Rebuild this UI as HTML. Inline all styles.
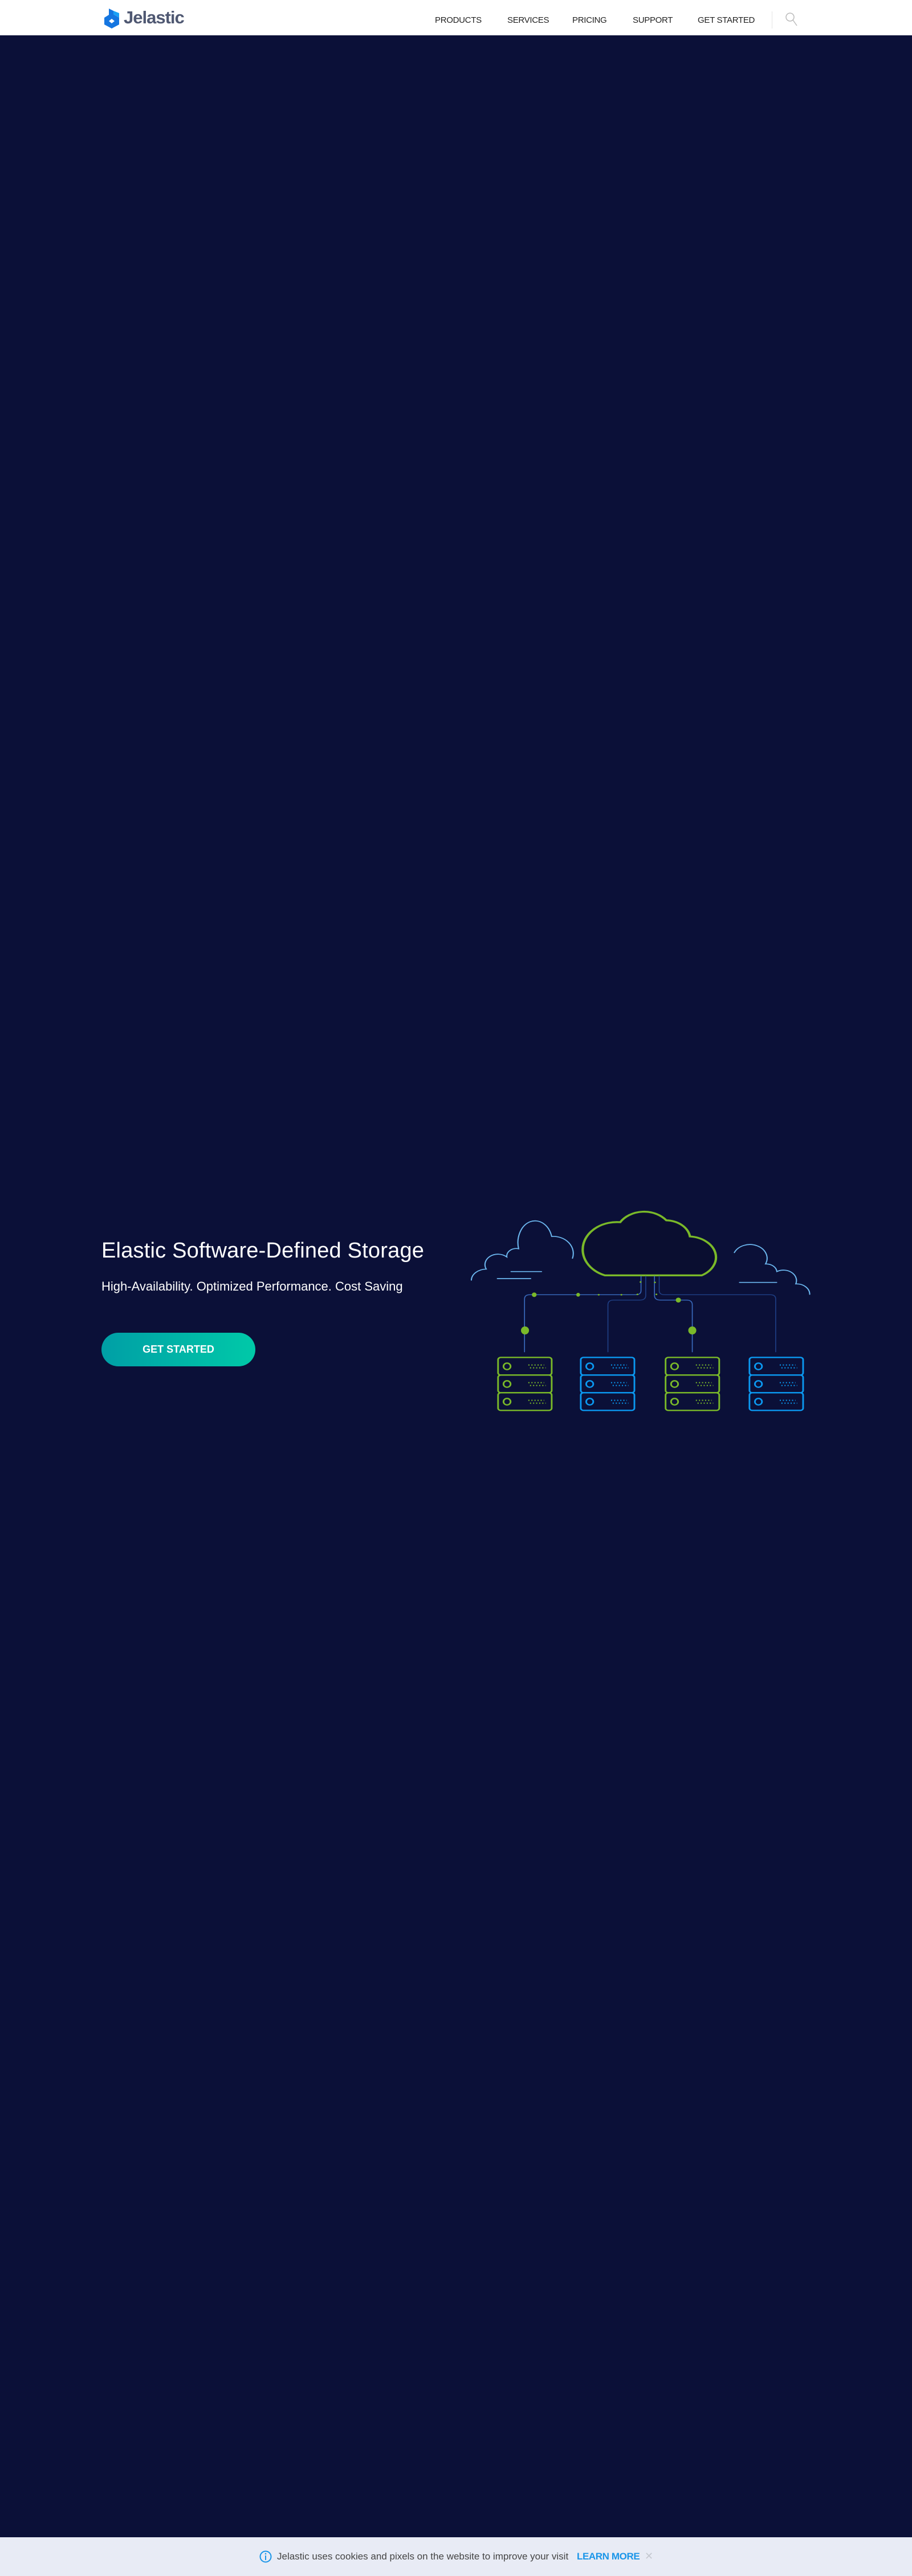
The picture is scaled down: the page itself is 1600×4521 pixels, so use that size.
<!DOCTYPE html>
<html><head><meta charset="utf-8"><style>
*{margin:0;padding:0;box-sizing:border-box}
body{width:1600px;height:4521px;background:#0b1038;font-family:"Liberation Sans",sans-serif;position:relative;overflow:hidden}
.hdr{position:absolute;left:0;top:0;width:1600px;height:62px;background:#fff}
.nav{position:absolute;top:27px;font-size:15px;color:#222;letter-spacing:-0.3px;white-space:nowrap}
.abs{position:absolute;white-space:nowrap}
</style></head><body>
<div class="hdr">
<svg class="abs" style="left:179px;top:15px" width="34" height="35" viewBox="0 0 34 35">
<path d="M12 0 L20 4 L20 10 L30 16 L30 28 L17 35 L4 28 L4 16 L12 11 Z" fill="#1576e0"/>
<path d="M20 4 L20 10 L30 16 L30 8 Z" fill="#1aa0f5"/>
<path d="M17 18 L22 22 L17 26 L12 22 Z" fill="#fff"/>
</svg>
<div class="abs" style="left:217px;top:13px;font-size:31px;font-weight:bold;color:#4f5872;letter-spacing:-1px">Jelastic</div>
<div class="nav" style="left:763px">PRODUCTS</div>
<div class="nav" style="left:890px">SERVICES</div>
<div class="nav" style="left:1004px">PRICING</div>
<div class="nav" style="left:1110px">SUPPORT</div>
<div class="nav" style="left:1224px">GET STARTED</div>
<div class="abs" style="left:1354px;top:20px;width:1px;height:30px;background:#e3e3e3"></div>
<svg class="abs" style="left:1377px;top:21px" width="24" height="26" viewBox="0 0 24 26"><circle cx="9" cy="9" r="7" fill="none" stroke="#bbb" stroke-width="1.5"/><line x1="14" y1="14" x2="21" y2="24" stroke="#bbb" stroke-width="1.5"/></svg>
</div>

<div class="abs" style="left:178px;top:2174px;font-size:38px;color:#fff;letter-spacing:0.2px">Elastic Software-Defined Storage</div>
<div class="abs" style="left:178px;top:2245px;font-size:22px;color:#fff;letter-spacing:0px">High-Availability. Optimized Performance. Cost Saving</div>
<div class="abs" style="left:178px;top:2339px;width:270px;height:59px;border-radius:30px;background:linear-gradient(90deg,#009fa6,#00c9a8);color:#fff;font-weight:bold;font-size:18px;text-align:center;line-height:59px">GET STARTED</div>

<svg class="abs" style="left:800px;top:2080px" width="650" height="420" viewBox="0 0 1568 1260" preserveAspectRatio="none">
<g fill="none" stroke-linecap="round">
<path d="M630,475 A145 145 0 0 1 695,195 A120 120 0 0 1 890,185 A105 100 0 0 1 990,270 A120 110 0 0 1 1040,475 Z" stroke="#7ab929" stroke-width="10" fill="#0a0e30"/>
<path d="M65,500 A65 60 0 0 1 128,442 A55 55 0 0 1 215,378 A40 40 0 0 1 265,335 A70 110 0 0 1 405,270 A85 90 0 0 1 493,385" stroke="#6db8f0" stroke-width="5"/>
<path d="M233,455 H362 M175,492 H316" stroke="#6db8f0" stroke-width="5"/>
<path d="M1178,355 A70 70 0 0 1 1310,415 A45 45 0 0 1 1358,455 A55 55 0 0 1 1438,520 A55 55 0 0 1 1497,575" stroke="#6db8f0" stroke-width="5"/>
<path d="M1200,512 H1357" stroke="#6db8f0" stroke-width="5"/>
<path d="M783,480 V555 Q783,577 760,577 H312 Q290,577 290,600 V878" stroke="#3a6bbf" stroke-width="4"/>
<path d="M803,480 V580 Q803,605 778,605 H668 Q643,605 643,630 V878" stroke="#1f3f85" stroke-width="4"/>
<path d="M840,480 V580 Q840,605 865,605 H975 Q1000,605 1000,630 V878" stroke="#3a6bbf" stroke-width="4"/>
<path d="M860,480 V555 Q860,577 883,577 H1330 Q1353,577 1353,600 V878" stroke="#1f3f85" stroke-width="4"/>
</g>
<g fill="#7ab929">
<ellipse cx="331" cy="577" rx="10" ry="12"/><ellipse cx="517" cy="577" rx="8" ry="10"/>
<circle cx="604" cy="577" r="4"/><circle cx="700" cy="577" r="4"/><circle cx="768" cy="575" r="4"/><circle cx="781" cy="510" r="4"/>
<ellipse cx="292" cy="765" rx="17" ry="21"/>
<circle cx="842" cy="512" r="4"/><circle cx="848" cy="575" r="4"/><ellipse cx="941" cy="605" rx="11" ry="13"/>
<ellipse cx="1000" cy="765" rx="17" ry="21"/>
</g>
<defs>
<g id="row">
<rect x="0" y="0" width="227" height="93" rx="12" fill="none" stroke-width="7"/>
<ellipse cx="38" cy="47" rx="15" ry="17" fill="none" stroke-width="7"/>
<path d="M128,40 H195 M135,55 H202" stroke-width="6" stroke-dasharray="5 8" fill="none"/>
</g>
</defs>
<g stroke="#7ab929"><use href="#row" x="178" y="907"/><use href="#row" x="178" y="1000"/><use href="#row" x="178" y="1093"/></g>
<g stroke="#0b98f0"><use href="#row" x="528" y="907"/><use href="#row" x="528" y="1000"/><use href="#row" x="528" y="1093"/></g>
<g stroke="#7ab929"><use href="#row" x="887" y="907"/><use href="#row" x="887" y="1000"/><use href="#row" x="887" y="1093"/></g>
<g stroke="#0b98f0"><use href="#row" x="1242" y="907"/><use href="#row" x="1242" y="1000"/><use href="#row" x="1242" y="1093"/></g>
</svg>

<div class="abs" style="left:0;top:4453px;width:1600px;height:68px;background:#e8ebf5"></div>
<svg class="abs" style="left:455px;top:4476px" width="22" height="22" viewBox="0 0 22 22"><circle cx="11" cy="11" r="9.5" fill="none" stroke="#1a95e8" stroke-width="2"/><rect x="10" y="9" width="2" height="8" fill="#1a95e8"/><circle cx="11" cy="6" r="1.3" fill="#1a95e8"/></svg>
<div class="abs" style="left:486px;top:4477px;font-size:17px;color:#444;letter-spacing:0px">Jelastic uses cookies and pixels on the website to improve your visit</div>
<div class="abs" style="left:1012px;top:4477px;font-size:17px;color:#1a95e8;font-weight:bold;letter-spacing:-0.4px">LEARN MORE</div>
<div class="abs" style="left:1131px;top:4476px;font-size:18px;color:#c5c8d0">✕</div>
</body></html>
